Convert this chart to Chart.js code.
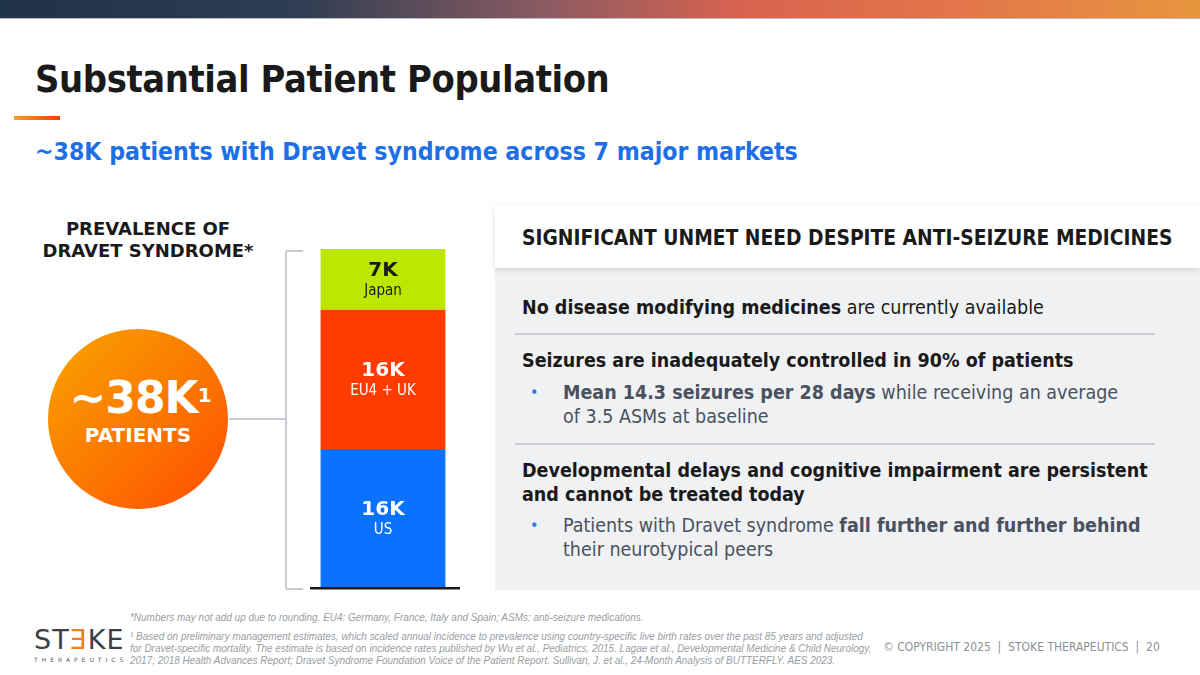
<!DOCTYPE html>
<html>
<head>
<meta charset="utf-8">
<script src="https://cdn.jsdelivr.net/npm/chart.js@4.4.1/dist/chart.umd.min.js"></script>
<style>
  html, body { margin: 0; padding: 0; }
  body { width: 1200px; height: 675px; position: relative; overflow: hidden; background: #fff;
         font-family: "DejaVu Sans Condensed", "DejaVu Sans", sans-serif; color: #1a1a1a; }
  .abs { position: absolute; }
  #banner { left: 0; top: 0; width: 1200px; height: 18px;
            background: linear-gradient(90deg, #1f3346 0%, #2f3e52 25%, #8a5a62 45%, #d9634f 62%, #e2764a 80%, #e8963e 100%);
            border-bottom: 1px solid #b9bcc0; }
  #title { left: 35px; top: 57px; font-size: 37.7px; font-weight: bold; letter-spacing: -0.4px; white-space: nowrap; }
  #uline { left: 14px; top: 116px; width: 46px; height: 4px; background: linear-gradient(90deg, #f6a01a, #ff3d00); }
  #sub { left: 35px; top: 137px; font-size: 24.6px; font-weight: bold; color: #1e6fe6; white-space: nowrap; }
  #prev { left: 20px; top: 218px; width: 256px; text-align: center; font-family: "DejaVu Sans", sans-serif;
          font-size: 18px; font-weight: bold; line-height: 22px; }
  #circle { left: 48px; top: 329px; width: 180px; height: 180px; border-radius: 50%;
            background: linear-gradient(135deg, #f9a400 0%, #fb7a00 50%, #ff4d00 100%); color: #fff;
            font-family: "DejaVu Sans", sans-serif; font-weight: bold; text-align: center; }
  #big { position: absolute; left: 2px; width: 180px; top: 44px; font-size: 44px; line-height: 50px; letter-spacing: -1px; }
  #big sup { font-size: 20px; position: relative; top: -3px; vertical-align: top; }
  #pat { position: absolute; left: 0; width: 180px; top: 94px; font-size: 20px; }
  #conn { left: 229px; top: 418px; width: 57px; height: 2px; background: #c8ccd2; }
  #brk { left: 285px; top: 250px; width: 16px; height: 336px; border: 2px solid #c8ccd2; border-right: none; border-radius: 3px 0 0 3px; }
  #chartbox { left: 305px; top: 249px; width: 156px; height: 341px; }
  #hdr { left: 495px; top: 205px; width: 705px; height: 63px; background: #fff; box-shadow: 0 2px 6px rgba(0,0,0,0.12); z-index: 2; }
  #hdr div { position: absolute; left: 27px; top: 21px; font-size: 20.8px; font-weight: bold; white-space: nowrap; }
  #panel { left: 495px; top: 268px; width: 705px; height: 322px; background: #f0f1f3; }
  .p { position: absolute; left: 27px; font-size: 19.5px; white-space: nowrap; color: #1a1a1a; }
  .b { position: absolute; left: 68px; font-size: 19.5px; white-space: nowrap; color: #4a5260; line-height: 24px; }
  .dot { position: absolute; left: 35px; color: #2f7de8; font-size: 16px; }
  .rule { position: absolute; left: 20px; width: 640px; height: 2px; background: #c9cdd3; }
  #foot { left: 130px; top: 611px; font-family: "Liberation Sans", sans-serif; font-style: italic; font-size: 11.2px;
          color: #9a9da2; line-height: 12px; white-space: nowrap; transform: scaleX(0.89); transform-origin: 0 0; }
  #copy { left: 883px; top: 640px; font-size: 12px; color: #8d9095; white-space: nowrap; }
  #logo { left: 34px; top: 624px; font-family: "DejaVu Sans", sans-serif; font-size: 27px; color: #3b3f45; letter-spacing: 1px; }
  #logo .o { color: #f08020; }
  #logo2 { left: 34px; top: 656px; font-size: 6px; letter-spacing: 4px; color: #55595f; font-family: "DejaVu Sans", sans-serif; }
</style>
</head>
<body>
<div id="banner" class="abs"></div>
<div id="title" class="abs">Substantial Patient Population</div>
<div id="uline" class="abs"></div>
<div id="sub" class="abs">~38K patients with Dravet syndrome across 7 major markets</div>

<div id="prev" class="abs">PREVALENCE OF<br>DRAVET SYNDROME*</div>
<div id="circle" class="abs"><div id="big">~38K<sup>1</sup></div><div id="pat">PATIENTS</div></div>
<div id="conn" class="abs"></div>
<div id="brk" class="abs"></div>
<div id="chartbox" class="abs"><canvas id="bar"></canvas></div>

<div id="hdr" class="abs"><div>SIGNIFICANT UNMET NEED DESPITE ANTI-SEIZURE MEDICINES</div></div>
<div id="panel" class="abs">
  <div class="p" style="top:28px"><b>No disease modifying medicines</b> are currently available</div>
  <div class="rule" style="top:65px"></div>
  <div class="p" style="top:81px"><b>Seizures are inadequately controlled in 90% of patients</b></div>
  <div class="dot" style="top:115px">•</div>
  <div class="b" style="top:113px"><b>Mean 14.3 seizures per 28 days</b> while receiving an average<br>of 3.5 ASMs at baseline</div>
  <div class="rule" style="top:175px"></div>
  <div class="p" style="top:191px; line-height:24px"><b>Developmental delays and cognitive impairment are persistent<br>and cannot be treated today</b></div>
  <div class="dot" style="top:248px">•</div>
  <div class="b" style="top:246px">Patients with Dravet syndrome <b>fall further and further behind</b><br>their neurotypical peers</div>
</div>

<div id="logo" class="abs">ST<span class="o">Ǝ</span>KE</div>
<div id="logo2" class="abs">THERAPEUTICS</div>
<div id="foot" class="abs">*Numbers may not add up due to rounding. EU4: Germany, France, Italy and Spain; ASMs: anti-seizure medications.<br>
<div style="height:7px"></div>
¹ Based on preliminary management estimates, which scaled annual incidence to prevalence using country-specific live birth rates over the past 85 years and adjusted<br>
for Dravet-specific mortality. The estimate is based on incidence rates published by Wu et al., Pediatrics, 2015. Lagae et al., Developmental Medicine &amp; Child Neurology,<br>
2017; 2018 Health Advances Report; Dravet Syndrome Foundation Voice of the Patient Report. Sullivan, J. et al., 24-Month Analysis of BUTTERFLY. AES 2023.</div>
<div id="copy" class="abs">© COPYRIGHT 2025 &nbsp;| &nbsp;STOKE THERAPEUTICS &nbsp;| &nbsp;20</div>

<script>
// segments, bottom to top
const regions = ["US", "EU4 + UK", "Japan"];
const patientsK = [16, 16, 7];
const segLabels = ["16K", "16K", "7K"];
const segColors = ["#0a72ff", "#ff3b00", "#bde600"];
const textColors = ["#ffffff", "#ffffff", "#1a1a1a"];

const total = patientsK.reduce((a, b) => a + b, 0);

const segmentText = {
  id: "segmentText",
  afterDatasetsDraw(chart) {
    const ctx = chart.ctx;
    ctx.save();
    ctx.textAlign = "center";
    ctx.textBaseline = "middle";
    chart.data.datasets.forEach((ds, i) => {
      const el = chart.getDatasetMeta(i).data[0];
      const mid = (el.y + el.base) / 2;
      ctx.fillStyle = textColors[i];
      ctx.font = "bold 20px 'DejaVu Sans'";
      ctx.fillText(segLabels[i], el.x, mid - 9);
      ctx.font = "15px 'DejaVu Sans Condensed'";
      ctx.fillText(regions[i], el.x, mid + 12);
    });
    // baseline under the bar
    const area = chart.chartArea;
    ctx.fillStyle = "#1a1a1a";
    ctx.fillRect(area.left + 5, area.bottom - 1, area.right - area.left - 6, 2.5);
    ctx.restore();
  }
};

new Chart(document.getElementById("bar"), {
  type: "bar",
  data: {
    labels: ["Prevalence"],
    datasets: regions.map((r, i) => ({
      label: r,
      data: [patientsK[i]],
      backgroundColor: segColors[i],
      borderWidth: 0
    }))
  },
  options: {
    responsive: true,
    maintainAspectRatio: false,
    animation: false,
    layout: { padding: { top: 0, bottom: 2 } },
    datasets: { bar: { categoryPercentage: 1, barPercentage: 0.8 } },
    scales: {
      x: { stacked: true, display: false },
      y: { stacked: true, display: false, min: 0, max: total }
    },
    plugins: {
      legend: { display: false },
      tooltip: { enabled: false }
    }
  },
  plugins: [segmentText]
});
</script>
</body>
</html>
